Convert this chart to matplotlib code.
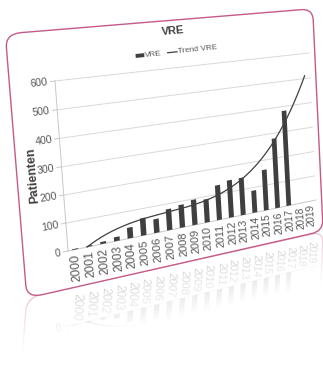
import numpy as np
import matplotlib
matplotlib.use("Agg")
import matplotlib.pyplot as plt
from matplotlib.transforms import Transform, IdentityTransform
from matplotlib.patches import FancyBboxPatch, Rectangle

# ---------------- data ----------------
years = [str(y) for y in range(2000, 2020)]
vre_values = [3, 4, 8, 15, 40, 65, 52, 80, 87, 97, 90, 135, 146, 147, 88, 162, 279, 383]  # 2000-2017
y_ticks = [0, 100, 200, 300, 400, 500, 600]
chart_title = "VRE"
y_label = "Patienten"
legend_labels = ["VRE", "Trend VRE"]
trend_order = 3

# ---------------- figure ----------------
W, H = 323, 369
DPI = 100
fig = plt.figure(figsize=(W / DPI, H / DPI), dpi=DPI)
fig.patch.set_facecolor("white")

REG = ["Liberation Sans", "DejaVu Sans"]
TXT = "#595959"
DARK = "#404040"


def img(x, y):
    return (float(x), float(H - y))


def homography(src, dst):
    A, b = [], []
    for (x, y), (u, v) in zip(src, dst):
        A.append([x, y, 1, 0, 0, 0, -u * x, -u * y]); b.append(u)
        A.append([0, 0, 0, x, y, 1, -v * x, -v * y]); b.append(v)
    h = np.linalg.solve(np.array(A, float), np.array(b, float))
    return np.append(h, 1.0).reshape(3, 3)


class Proj(Transform):
    input_dims = 2
    output_dims = 2
    is_separable = False
    has_inverse = False

    def __init__(self, M):
        super().__init__()
        self.M = np.asarray(M, float)

    def transform_non_affine(self, values):
        v = np.asarray(values, float)
        shp = v.shape
        v = v.reshape(-1, 2)
        h = np.c_[v, np.ones(len(v))] @ self.M.T
        out = h[:, :2] / h[:, 2:3]
        return out.reshape(shp)


def apply(Mx, pt):
    h = Mx @ np.array([pt[0], pt[1], 1.0])
    return h[:2] / h[2]


# flat plot rectangle (display px) and where its corners land in the picture
FL, FR, FB, FT = 68.0, 316.0, 118.0, 288.0
src = [(FL, FB), (FL, FT), (FR, FB), (FR, FT)]
dst = [img(68, 251), img(55, 81), img(316, 200), img(309, 53)]
M = homography(src, dst)
Minv = np.linalg.inv(M)

# reflection about the card's bottom edge
bl, br = (26, 298), (320, 232)
slope = (br[1] - bl[1]) / (br[0] - bl[0])
a_d = H - bl[1] + slope * bl[0]
b_d = -slope
R = np.array([[1, 0, 0], [2 * b_d, -1, 2 * a_d], [0, 0, 1.0]])
MR = R @ M

# card in flat coords
cc = [apply(Minv, img(*p)) for p in [(6, 32), (316, 10), (320, 232), (26, 298)]]
cl = (cc[0][0] + cc[3][0]) / 2
cr = (cc[1][0] + cc[2][0]) / 2
ct = (cc[0][1] + cc[1][1]) / 2
cb = (cc[2][1] + cc[3][1]) / 2

title_f = apply(Minv, img(173, 31))
leg_f = apply(Minv, img(175, 52))
ylab_f = apply(Minv, img(32.5, 175))

pos = [FL / W, FB / H, (FR - FL) / W, (FT - FB) / H]


def put(Mx, fx, fy, s, theta=0.0, size=8, zorder=5, refl=False, **kw):
    p = apply(Mx, (fx, fy))
    if refl and (p[1] < 30 or p[1] > H or p[0] < 0 or p[0] > W):
        return None
    e = 1.0
    t = np.radians(theta)
    d1 = apply(Mx, (fx + e * np.cos(t), fy + e * np.sin(t))) - p
    d2 = apply(Mx, (fx - e * np.sin(t), fy + e * np.cos(t))) - p
    rot = np.degrees(np.arctan2(d1[1], d1[0]))
    sc = np.sqrt(abs(d1[0] * d2[1] - d1[1] * d2[0])) / e
    return fig.text(p[0], p[1], s, transform=IdentityTransform(), rotation=rot,
                    rotation_mode="anchor", fontsize=size * sc, zorder=zorder, **kw)


def draw_chart(a, Mx, alpha, tz, refl=False):
    Pt = Proj(Mx)
    a.set_autoscale_on(False)
    a.set_xlim(-0.5, 19.5)
    a.set_ylim(0, 600)
    a.axis("off")
    dT = a.transData + Pt

    card = FancyBboxPatch((cl, cb), cr - cl, ct - cb,
                          boxstyle="round,pad=0,rounding_size=13",
                          fc="white", ec="#c55a88", lw=1.0, alpha=alpha,
                          transform=Pt, zorder=0.5)
    a.add_patch(card)
    card.set_clip_on(False)

    # gridlines
    for v in y_ticks:
        a.plot([-0.5, 19.5], [v, v], color="#d9d9d9" if v else "#c8c8c8",
               lw=0.7, transform=dT, clip_on=False, alpha=alpha, zorder=1)
    # left axis line + ticks
    a.plot([-0.5, -0.5], [0, 600], color="#c8c8c8", lw=0.7, transform=dT,
           clip_on=False, alpha=alpha, zorder=1)
    for v in y_ticks:
        fy = FB + v * (FT - FB) / 600
        a.plot([FL - 4, FL], [fy, fy], color="#c8c8c8", lw=0.7, transform=Pt,
               clip_on=False, alpha=alpha, zorder=1)

    # bars
    xs = np.arange(len(vre_values))
    bars = a.bar(xs, vre_values, width=0.42, color="#3f3f3f", alpha=alpha, zorder=2)
    for p in bars.patches:
        p.set_transform(dT)
        p.set_clip_on(False)

    # polynomial trend (as the spreadsheet trendline), forecast to 2019
    coef = np.polyfit(xs, vre_values, trend_order)
    tx = np.linspace(0, len(years) - 1, 400)
    ty = np.polyval(coef, tx)
    m = ty >= 0
    a.plot(tx[m], ty[m], color=DARK, lw=0.9, transform=dT, clip_on=False,
           alpha=alpha, zorder=3)

    col = TXT
    # y tick labels
    for v in y_ticks:
        fy = FB + v * (FT - FB) / 600
        put(Mx, FL - 6, fy, str(v), size=6.9, zorder=tz, refl=refl, ha="right",
            va="center", color=col, alpha=alpha, family=REG)
    # category labels
    for i, yl in enumerate(years):
        fx = FL + (i + 0.5) * (FR - FL) / len(years)
        put(Mx, fx, FB - 4, yl, theta=90, size=8.2, zorder=tz, refl=refl,
            ha="right", va="center", color=col, alpha=alpha, family=REG)
    # y label
    put(Mx, ylab_f[0], ylab_f[1], y_label, theta=90, size=8.0, zorder=tz,
        refl=refl, ha="center", va="center", color=DARK, alpha=alpha,
        family=REG, fontweight="bold")
    # title
    put(Mx, title_f[0], title_f[1], chart_title, size=8.0, zorder=tz, refl=refl,
        ha="center", va="center", color=DARK, alpha=alpha, family=REG,
        fontweight="bold")
    # legend
    lx, ly = leg_f
    mk = Rectangle((lx - 37, ly - 2), 8, 4, fc="#3f3f3f", ec="none",
                   transform=Pt, alpha=alpha, zorder=3)
    a.add_patch(mk)
    mk.set_clip_on(False)
    put(Mx, lx - 28.5, ly, legend_labels[0], size=5.8, zorder=tz, refl=refl,
        ha="left", va="center", color=col, alpha=alpha, family=REG)
    a.plot([lx - 7, lx + 2], [ly, ly], color=DARK, lw=0.9, transform=Pt,
           clip_on=False, alpha=alpha, zorder=3)
    put(Mx, lx + 3, ly, legend_labels[1], size=5.8, zorder=tz, refl=refl,
        ha="left", va="center", color=col, alpha=alpha, family=REG)


ax_r = fig.add_axes(pos)
ax_r.set_zorder(0)
draw_chart(ax_r, MR, 0.35, 0.5, refl=True)

# fade of the reflection
yy, xx = np.mgrid[0:H, 0:W]
Lx = bl[1] + slope * (xx - bl[0])
dist = yy - Lx
ov = np.ones((H, W, 4))
ov[..., 3] = np.clip((dist + 2) / 55.0, 0, 1) ** 0.8
ov[..., 3][dist < -2] = 0
fig.figimage(ov, xo=0, yo=0, origin="upper", zorder=1)

ax = fig.add_axes(pos)
ax.set_zorder(2)
draw_chart(ax, M, 1.0, 5)

fig.savefig("out.png", dpi=DPI)
